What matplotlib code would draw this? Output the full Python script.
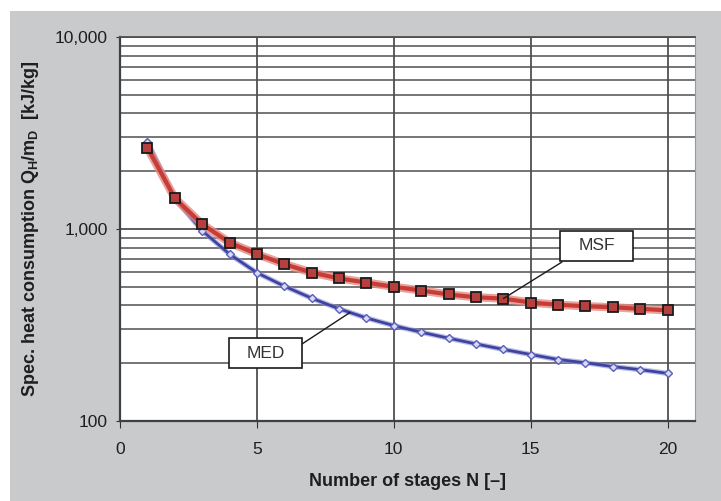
import numpy as np
import matplotlib
matplotlib.use("Agg")
import matplotlib.pyplot as plt
from matplotlib.patches import Rectangle
from matplotlib.ticker import FixedLocator, NullFormatter

plt.rcParams['font.family'] = ['Liberation Sans', 'DejaVu Sans']

stages = np.arange(1, 21)
msf = [2650, 1450, 1060, 850, 740, 656, 593, 553, 526, 500,
       478, 456, 441, 434, 414, 403, 396, 391, 384, 377]
med = [2850, 1440, 980, 740, 592, 504, 436, 384, 344, 314,
       290, 270, 252, 236, 222, 209, 201, 192, 185, 177]
x_ticks = [0, 5, 10, 15, 20]
y_ticks = [100, 1000, 10000]
y_tick_labels = ["100", "1,000", "10,000"]
y_label = r"Spec. heat consumption Q$_\mathregular{H}$/m$_\mathregular{D}$  [kJ/kg]"
x_label = "Number of stages N [–]"

W, H = 721, 501
fig = plt.figure(figsize=(W / 100, H / 100), dpi=100, facecolor="white")
fig.patches.append(Rectangle((10 / W, 0), 1 - 10 / W, 1 - 11 / H,
                             transform=fig.transFigure, facecolor="#c9cacc",
                             edgecolor="none", zorder=-10))

ax = fig.add_axes([120 / W, 1 - 421 / H, 575 / W, 384 / H])
ax.set_zorder(1)
ax.set_facecolor("white")
ax.set_yscale("log")
ax.set_xlim(0, 21)
ax.set_ylim(100, 10000)

grid_c = "#505050"
ax.yaxis.set_major_locator(FixedLocator(y_ticks))
ax.set_yticklabels(y_tick_labels)
ax.yaxis.set_minor_locator(FixedLocator(
    [v * d for d in (100, 1000) for v in range(2, 10)]))
ax.yaxis.set_minor_formatter(NullFormatter())
ax.set_xticks(x_ticks)
ax.grid(True, which="major", axis="both", color=grid_c, lw=1.3)
ax.grid(True, which="minor", axis="y", color=grid_c, lw=1.1)
ax.tick_params(axis="y", which="minor", length=0)
ax.tick_params(axis="y", which="major", length=3, color="#333333",
               labelsize=12.5, labelcolor="#1e1e1e", pad=6)
ax.tick_params(axis="x", which="major", length=5, color="#333333",
               labelsize=12.5, labelcolor="#1e1e1e", pad=10)
ax.set_axisbelow(True)

for s in ("left", "bottom"):
    ax.spines[s].set_color("#404040")
    ax.spines[s].set_linewidth(1.6)
ax.spines["top"].set_color(grid_c)
ax.spines["top"].set_linewidth(1.3)
ax.spines["right"].set_color("#9a9a9a")
ax.spines["right"].set_linewidth(0.8)

# MED curve
ax.plot(stages, med, color="#8a8ed8", lw=3.8, alpha=0.6, zorder=3,
        solid_capstyle="round")
ax.plot(stages, med, color="#3f43a0", lw=2.0, zorder=4,
        marker="D", markersize=4.2, markerfacecolor="#d8dafa",
        markeredgecolor="#5a5eb8", markeredgewidth=1.0)
# MSF curve
ax.plot(stages, msf, color="#e48a84", lw=6.0, alpha=0.8, zorder=5,
        solid_capstyle="round")
ax.plot(stages, msf, color="#c83c36", lw=3.0, zorder=6,
        marker="s", markersize=6.5, markerfacecolor="#b5403e",
        markeredgecolor="#1a1a1a", markeredgewidth=1.3)

ax.set_xlabel(x_label, fontsize=13, fontweight="bold", color="#1e1e1e",
              labelpad=12)
ax.set_ylabel(y_label, fontsize=13, fontweight="bold", color="#1e1e1e",
              labelpad=10)

# Label boxes with leader lines
def label_box(text, bx, by, bw, bh, start, target):
    ax.add_patch(Rectangle((bx, by), bw, bh, transform=ax.transAxes,
                           facecolor="white", edgecolor="#1a1a1a",
                           lw=1.2, zorder=9))
    ax.text(bx + bw / 2, by + bh / 2, text, transform=ax.transAxes,
            ha="center", va="center", fontsize=12.5, color="#333333",
            zorder=10)
    ax.annotate("", xy=target, xycoords="data", xytext=start,
                textcoords="axes fraction",
                arrowprops=dict(arrowstyle="-", color="#1a1a1a", lw=1.0,
                                shrinkA=0, shrinkB=0), zorder=8)

label_box("MSF", 440 / 575, 160 / 384, 73 / 575, 30 / 384,
          (442 / 575, 159 / 384), (14, msf[13]))
med_x = 8.4
med_y = float(np.exp(np.interp(med_x, stages, np.log(med))))
label_box("MED", 109 / 575, 53 / 384, 73 / 575, 30 / 384,
          (182 / 575, 77 / 384), (med_x, med_y))

fig.savefig("out.png", dpi=100, facecolor=fig.get_facecolor())
